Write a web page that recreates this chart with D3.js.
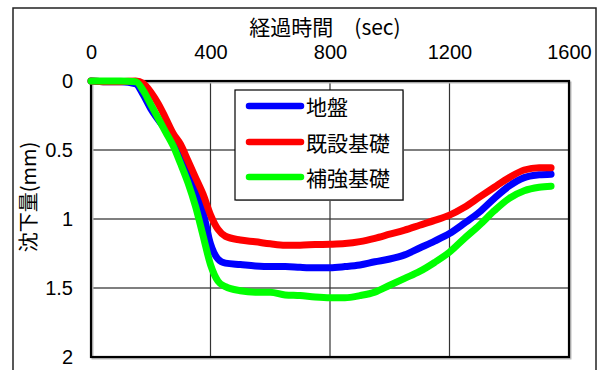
<!DOCTYPE html>
<html>
<head>
<meta charset="utf-8">
<script src="https://cdn.jsdelivr.net/npm/d3@7"></script>
<style>
  html, body { margin: 0; padding: 0; background: #fff; }
  svg { display: block; }
</style>
</head>
<body>
<svg id="chart" width="606" height="370"></svg>
<script>
// Elapsed time (sec) at each sample
const times = [0, 50, 100, 150, 175, 200, 225, 250, 275, 300, 325, 350, 375, 400, 425, 450,
  500, 550, 600, 650, 700, 750, 800, 850, 900, 950, 1000, 1050, 1100, 1150, 1200,
  1250, 1300, 1350, 1400, 1450, 1500, 1540];

// Settlement (mm) for each case
const ground = [0, 0.005, 0.005, 0.02, 0.10, 0.20, 0.28, 0.35, 0.42, 0.54, 0.67, 0.79, 0.95, 1.18, 1.29, 1.32,
  1.33, 1.34, 1.345, 1.345, 1.35, 1.353, 1.353, 1.345, 1.333, 1.31, 1.29, 1.26, 1.21, 1.16, 1.105,
  1.03, 0.95, 0.85, 0.76, 0.70, 0.68, 0.675];
const existing = [0, 0.005, 0.005, 0, 0.017, 0.08, 0.165, 0.27, 0.38, 0.46, 0.58, 0.70, 0.82, 0.97, 1.075, 1.125,
  1.152, 1.165, 1.18, 1.19, 1.19, 1.185, 1.183, 1.178, 1.164, 1.14, 1.11, 1.08, 1.045, 1.01, 0.972,
  0.915, 0.842, 0.77, 0.70, 0.645, 0.628, 0.628];
const reinforced = [0, 0, 0, 0.005, 0.07, 0.17, 0.27, 0.37, 0.47, 0.60, 0.74, 0.91, 1.12, 1.33, 1.45, 1.49,
  1.52, 1.53, 1.53, 1.55, 1.555, 1.565, 1.57, 1.57, 1.555, 1.53, 1.48, 1.43, 1.38, 1.315, 1.24,
  1.14, 1.045, 0.94, 0.85, 0.795, 0.77, 0.762];

const seriesNames = ["地盤", "既設基礎", "補強基礎"];
const seriesColors = ["#0000ff", "#ff0000", "#00ff00"];
const seriesValues = [ground, existing, reinforced];

const xTicks = [0, 400, 800, 1200, 1600];
const yTicks = [0, 0.5, 1, 1.5, 2];

const xTitle = "経過時間\u3000(sec)";
const yTitle = "沈下量(mm)";

const svg = d3.select("#chart");
const plotLeft = 91, plotRight = 569, plotTop = 81, plotBottom = 357;

const x = d3.scaleLinear().domain([0, 1600]).range([plotLeft, plotRight]);
const y = d3.scaleLinear().domain([0, 2]).range([plotTop, plotBottom]);

const numFont = "'Liberation Sans', Arial, sans-serif";
const cjkFont = "'Noto Sans CJK JP', 'Noto Sans', sans-serif";

// outer frame
svg.append("rect")
  .attr("x", 13).attr("y", 8).attr("width", 583).attr("height", 380)
  .attr("fill", "none").attr("stroke", "#222").attr("stroke-width", 1.5);

// gridlines
svg.append("g").selectAll("line")
  .data(yTicks.slice(1, -1)).join("line")
  .attr("x1", plotLeft).attr("x2", plotRight)
  .attr("y1", d => y(d)).attr("y2", d => y(d))
  .attr("stroke", "#000").attr("stroke-width", 1.2);
svg.append("g").selectAll("line")
  .data(xTicks.slice(1, -1)).join("line")
  .attr("y1", plotTop).attr("y2", plotBottom)
  .attr("x1", d => x(d)).attr("x2", d => x(d))
  .attr("stroke", "#333").attr("stroke-width", 1.2);

// plot frame with a faint shadow on right/bottom
svg.append("rect")
  .attr("x", plotLeft + 1.5).attr("y", plotTop + 1.5)
  .attr("width", plotRight - plotLeft).attr("height", plotBottom - plotTop)
  .attr("fill", "none").attr("stroke", "#bbb").attr("stroke-width", 2);
svg.append("rect")
  .attr("x", plotLeft).attr("y", plotTop)
  .attr("width", plotRight - plotLeft).attr("height", plotBottom - plotTop)
  .attr("fill", "none").attr("stroke", "#000").attr("stroke-width", 2.2);

// axes (labels only)
const xAxis = svg.append("g")
  .attr("transform", `translate(0,${plotTop - 22})`)
  .call(d3.axisTop(x).tickValues(xTicks).tickSize(0).tickPadding(0).tickFormat(d3.format("d")));
xAxis.select(".domain").remove();
xAxis.selectAll("text")
  .attr("font-family", numFont).attr("font-size", 20).attr("fill", "#000");

const yAxis = svg.append("g")
  .attr("transform", `translate(${plotLeft - 18},0)`)
  .call(d3.axisLeft(y).tickValues(yTicks).tickSize(0).tickPadding(0).tickFormat(d => String(d)));
yAxis.select(".domain").remove();
yAxis.selectAll("text")
  .attr("font-family", numFont).attr("font-size", 20).attr("fill", "#000");

// axis titles
svg.append("text")
  .attr("x", 325).attr("y", 35)
  .attr("text-anchor", "middle")
  .attr("font-family", cjkFont).attr("font-size", 21).attr("fill", "#000")
  .text(xTitle);
svg.append("text")
  .attr("transform", "translate(36,197) rotate(-90)")
  .attr("text-anchor", "middle")
  .attr("font-family", cjkFont).attr("font-size", 20).attr("fill", "#000")
  .text(yTitle);

// legend box (drawn under the curves)
const legendBox = svg.append("g");
legendBox.append("rect")
  .attr("x", 236).attr("y", 91).attr("width", 168).attr("height", 110)
  .attr("fill", "#bbb");
legendBox.append("rect")
  .attr("x", 235).attr("y", 90).attr("width", 168).attr("height", 110)
  .attr("fill", "#fff").attr("stroke", "#000").attr("stroke-width", 1.2);

// curves
const line = d3.line()
  .x((d, i) => x(times[i]))
  .y(d => y(d))
  .curve(d3.curveMonotoneX);

svg.append("g").selectAll("path")
  .data(seriesValues).join("path")
  .attr("d", d => line(d))
  .attr("fill", "none")
  .attr("stroke", (d, i) => seriesColors[i])
  .attr("stroke-width", 7)
  .attr("stroke-linecap", "round")
  .attr("stroke-linejoin", "round");

// legend entries
const legend = svg.append("g");
const legendRows = [106, 142, 177];
seriesNames.forEach((name, i) => {
  legend.append("line")
    .attr("x1", 249).attr("x2", 301)
    .attr("y1", legendRows[i]).attr("y2", legendRows[i])
    .attr("stroke", seriesColors[i]).attr("stroke-width", 6.5)
    .attr("stroke-linecap", "round");
  legend.append("text")
    .attr("x", 306).attr("y", legendRows[i])
    .attr("dominant-baseline", "central")
    .attr("font-family", cjkFont).attr("font-size", 21).attr("fill", "#000")
    .text(name);
});
</script>
</body>
</html>
